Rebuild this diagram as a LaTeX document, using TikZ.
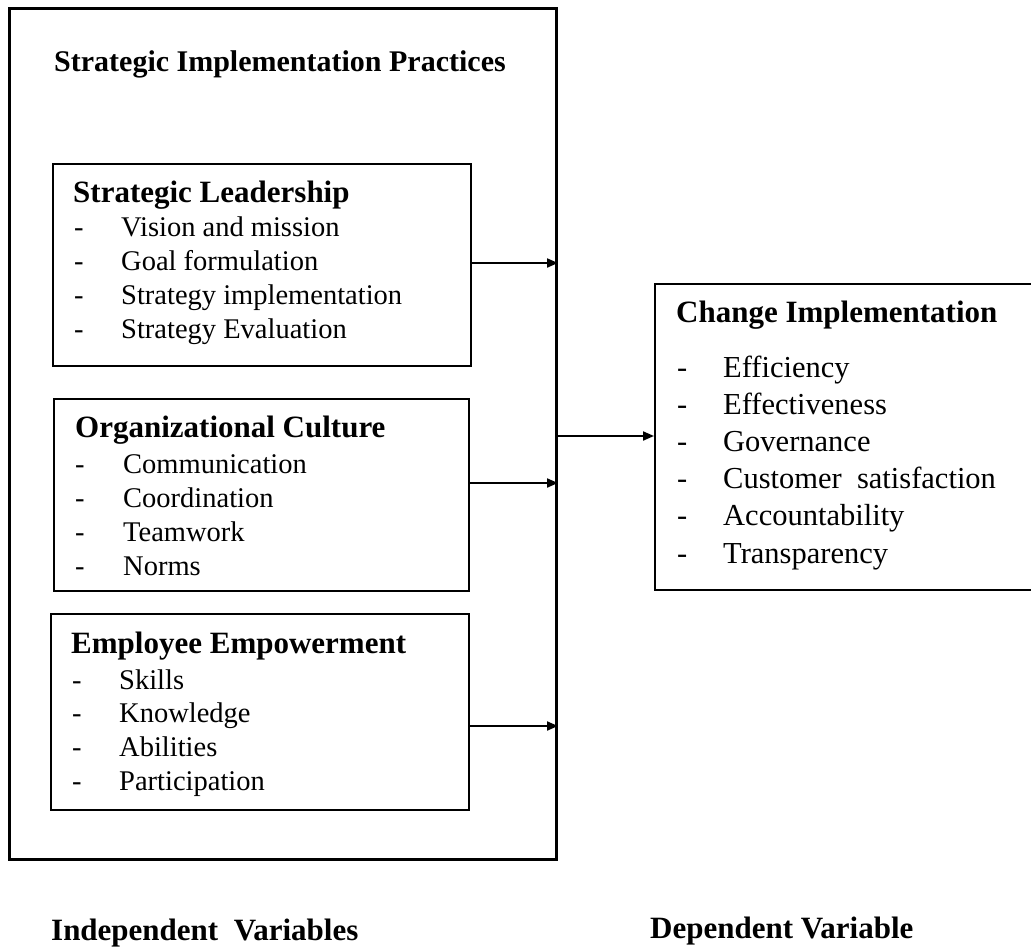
\documentclass[tikz,border=0pt]{standalone}
\usepackage{fontspec}
\setmainfont{Liberation Serif}
\usetikzlibrary{arrows.meta}
\begin{document}
\begin{tikzpicture}[x=1pt,y=-1pt,
  frame/.style={draw=black, line width=2pt, inner sep=0pt, anchor=north west},
  outerframe/.style={frame, line width=3pt},
  head/.style={anchor=base west, inner sep=0pt, font=\fontsize{31}{37}\selectfont\bfseries},
  toptitle/.style={anchor=base west, inner sep=0pt, font=\fontsize{30}{36}\selectfont\bfseries},
  item/.style={anchor=base west, inner sep=0pt, font=\fontsize{28.5}{34}\selectfont},
  citem/.style={anchor=base west, inner sep=0pt, font=\fontsize{30.5}{37}\selectfont},
  link/.style={line width=2pt, -{Triangle[length=11pt,width=9pt]}}]

\useasboundingbox (0,0) rectangle (1031,947);
\fill[white] (0,0) rectangle (1031,947);
\clip (0,0) rectangle (1031,947);

% independent variables group
\node[outerframe, minimum width=547pt, minimum height=851pt] (sip) at (8,7) {};
\node[toptitle] (siptitle) at (54,72) {Strategic Implementation Practices};

% strategic leadership
\node[frame, minimum width=418pt, minimum height=202pt] (sl) at (52,163) {};
\node[head] (sltitle) at (73,202) {Strategic Leadership};
\foreach \t [count=\i] in {Vision and mission, Goal formulation, Strategy implementation, Strategy Evaluation}
  \node[item] (sl-\i) at (74,{236+34*(\i-1)}) {\makebox[47pt][l]{-}\t};

% organizational culture
\node[frame, minimum width=415pt, minimum height=192pt] (oc) at (53,398) {};
\node[head] (octitle) at (75,437) {Organizational Culture};
\foreach \t [count=\i] in {Communication, Coordination, Teamwork, Norms}
  \node[item] (oc-\i) at (75,{473+34*(\i-1)}) {\makebox[48pt][l]{-}\t};

% employee empowerment
\node[frame, minimum width=418pt, minimum height=196pt] (ee) at (50,613) {};
\node[head] (eetitle) at (71,653) {Employee Empowerment};
\foreach \t [count=\i] in {Skills, Knowledge, Abilities, Participation}
  \node[item] (ee-\i) at (72,{689+33.7*(\i-1)}) {\makebox[47pt][l]{-}\t};

% dependent variable
\node[frame, minimum width=400pt, minimum height=306pt] (ci) at (654,283) {};
\node[head] (cititle) at (676,322) {Change Implementation};
\foreach \t [count=\i] in {Efficiency, Effectiveness, Governance, Customer\ \ satisfaction, Accountability, Transparency}
  \node[citem] (ci-\i) at (677,{377+37.2*(\i-1)}) {\makebox[46pt][l]{-}\t};

% connectors
\draw[link] (sl.east |- 0,263) -- (sip.east |- 0,263);
\draw[link] (oc.east |- 0,483) -- (sip.east |- 0,483);
\draw[link] (ee.east |- 0,726) -- (sip.east |- 0,726);
\draw[link] (sip.east |- 0,436) -- (ci.west |- 0,436);

% captions
\node[head] (indep) at (51,940) {Independent\ \ Variables};
\node[head] (dep) at (650,938) {Dependent Variable};
\end{tikzpicture}
\end{document}
